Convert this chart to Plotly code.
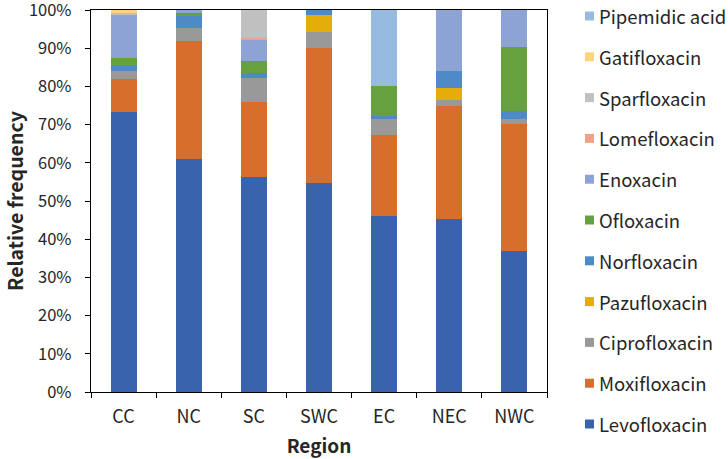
import plotly.graph_objects as go

regions = ["CC", "NC", "SC", "SWC", "EC", "NEC", "NWC"]
drugs = ["Levofloxacin", "Moxifloxacin", "Ciprofloxacin", "Pazufloxacin", "Norfloxacin",
         "Ofloxacin", "Enoxacin", "Lomefloxacin", "Sparfloxacin", "Gatifloxacin", "Pipemidic acid"]

levofloxacin = [73.4, 60.9, 56.4, 54.8, 46.1, 45.2, 37.0]
moxifloxacin = [8.5, 31.1, 19.4, 35.3, 21.2, 29.7, 33.2]
ciprofloxacin = [2.2, 3.2, 6.5, 4.2, 4.1, 1.6, 1.2]
pazufloxacin = [0.0, 0.0, 0.0, 4.4, 0.0, 3.2, 0.0]
norfloxacin = [1.5, 3.3, 1.1, 1.3, 0.9, 4.3, 2.2]
ofloxacin = [1.8, 0.8, 3.2, 0.0, 7.8, 0.0, 16.8]
enoxacin = [11.3, 0.7, 5.7, 0.0, 0.0, 16.0, 9.6]
lomefloxacin = [0.0, 0.0, 0.3, 0.0, 0.0, 0.0, 0.0]
sparfloxacin = [0.4, 0.0, 7.4, 0.0, 0.0, 0.0, 0.0]
gatifloxacin = [0.9, 0.0, 0.0, 0.0, 0.0, 0.0, 0.0]
pipemidic_acid = [0.0, 0.0, 0.0, 0.0, 19.9, 0.0, 0.0]

series = [levofloxacin, moxifloxacin, ciprofloxacin, pazufloxacin, norfloxacin,
          ofloxacin, enoxacin, lomefloxacin, sparfloxacin, gatifloxacin, pipemidic_acid]
colors = ["#3A63AD", "#D56F2B", "#999999", "#E5AD0A", "#4D8AC6", "#66A03F",
          "#8DA3D6", "#EEA287", "#C0C0C0", "#FCD37F", "#97BAE1"]

font_family = "Noto Sans CJK SC, Noto Sans, sans-serif"

W, H = 728, 459
ML, MR, MT, MB = 91, 181, 10, 67
PW, PH = W - ML - MR, H - MT - MB


def px_x(px):
    return (px - ML) / PW


def px_y(py):
    return (H - MB - py) / PH


fig = go.Figure()
for name, vals, col in zip(drugs, series, colors):
    fig.add_trace(go.Bar(x=regions, y=vals, name=name, showlegend=False,
                         marker=dict(color=col, line=dict(width=0)), width=0.4))

# Legend drawn as real text + square swatches, top item is the last series
shapes = []
annotations = []
n = len(drugs)
for k in range(n):
    idx = n - 1 - k
    cy = 16 + 40.8 * k
    shapes.append(dict(type="rect", xref="paper", yref="paper",
                       x0=px_x(585), x1=px_x(594), y0=px_y(cy + 4.5), y1=px_y(cy - 4.5),
                       fillcolor=colors[idx], line=dict(width=0)))
    annotations.append(dict(xref="paper", yref="paper", x=px_x(597), y=px_y(cy),
                            xanchor="left", yanchor="middle", showarrow=False,
                            text=drugs[idx], font=dict(size=18.5, color="#262626")))

fig.update_layout(
    barmode="stack",
    width=W, height=H,
    margin=dict(l=ML, r=MR, t=MT, b=MB),
    plot_bgcolor="white", paper_bgcolor="white",
    font=dict(family=font_family, size=16, color="#262626"),
    showlegend=False,
    shapes=shapes,
    annotations=annotations,
    xaxis=dict(title=dict(text="Region", font=dict(size=19, weight="bold"), standoff=12),
               showline=True, linecolor="#000", linewidth=1.3, mirror=True,
               ticks="outside", ticklen=5, tickcolor="#000", tickson="boundaries",
               ticklabelstandoff=8,
               showgrid=False, tickfont=dict(size=18), automargin=False),
    yaxis=dict(title=dict(text="Relative frequency", font=dict(size=19.5, weight="bold"), standoff=0),
               range=[0, 100], dtick=10, ticksuffix="%", ticklabeloverflow="allow",
               showline=True, linecolor="#000", linewidth=1.3, mirror=True,
               ticks="outside", ticklen=5, tickcolor="#000", ticklabelstandoff=10,
               showgrid=False, zeroline=False, tickfont=dict(size=16.5), automargin=False),
)

fig.write_html("out.html", config={"displayModeBar": False},
               post_script="document.body.style.margin='0';document.body.style.padding='0';")
